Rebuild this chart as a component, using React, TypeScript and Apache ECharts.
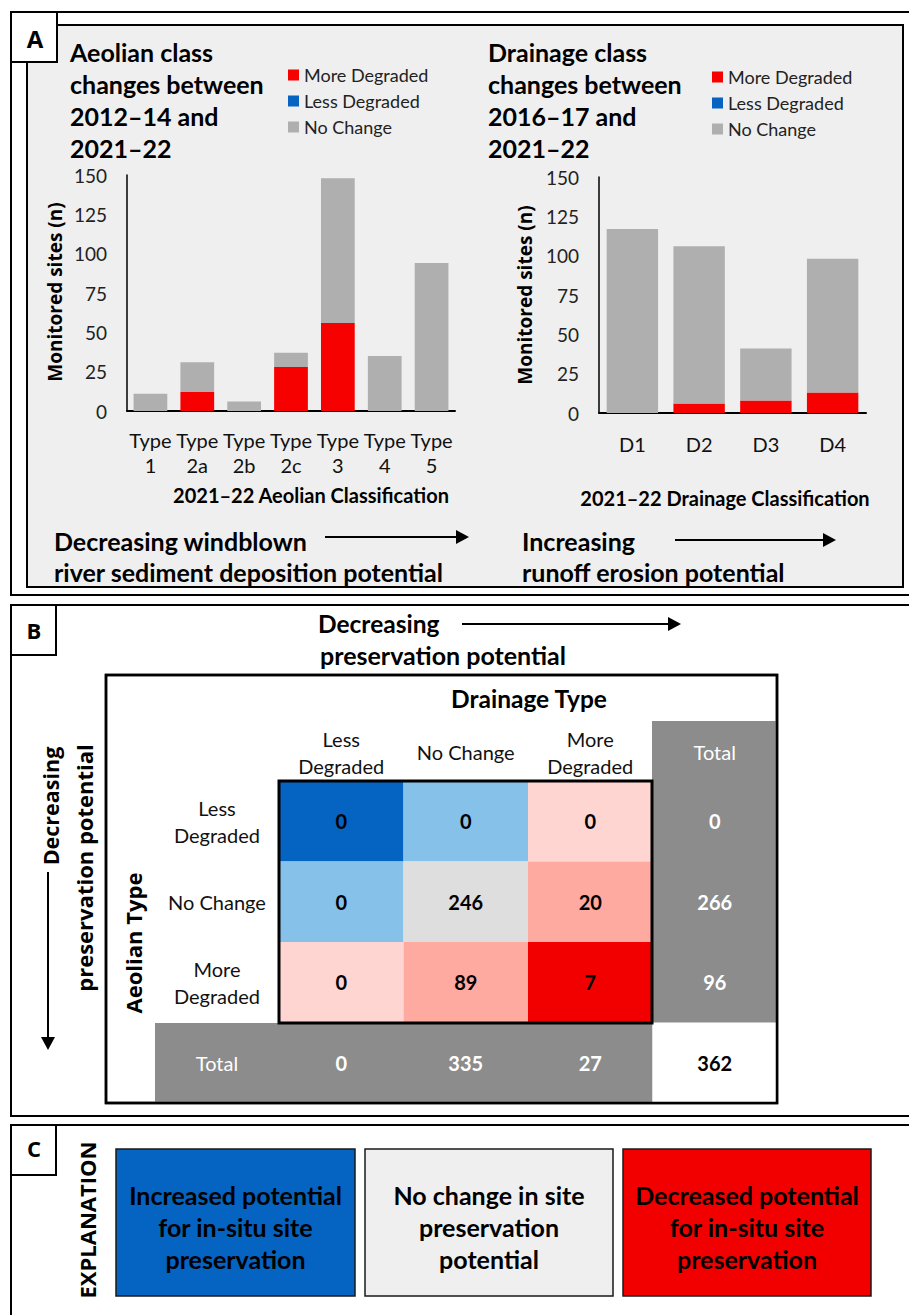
import React, { useEffect, useRef } from "react";
import * as echarts from "echarts";

// ---------- Data ----------
const aeolianCats = ["Type\n1", "Type\n2a", "Type\n2b", "Type\n2c", "Type\n3", "Type\n4", "Type\n5"];
const aeolianMore = [0, 12, 0, 28, 56, 0, 0];
const aeolianLess = [0, 0, 0, 0, 0, 0, 0];
const aeolianNoChange = [11, 19, 6, 9, 92, 35, 94];

const drainageCats = ["D1", "D2", "D3", "D4"];
const drainageMore = [0, 6, 8, 13];
const drainageLess = [0, 0, 0, 0];
const drainageNoChange = [117, 100, 33, 85];

const seriesNames = ["More Degraded", "Less Degraded", "No Change"];
const yMin = 0;
const yMax = 150;
const yStep = 25;

const drainageCols = ["Less\nDegraded", "No Change", "More\nDegraded", "Total"];
const aeolianRows = ["Less\nDegraded", "No Change", "More\nDegraded", "Total"];
const matrixValues = [
  [0, 0, 0],
  [0, 246, 20],
  [0, 89, 7],
];
const rowTotals = [0, 266, 96];
const colTotals = [0, 335, 27];
const grandTotal = 362;

const explanationTexts = [
  "Increased potential\nfor in-situ site\npreservation",
  "No change in site\npreservation\npotential",
  "Decreased potential\nfor in-situ site\npreservation",
];

// ---------- Styles ----------
const RED = "#f70000";
const BLUE = "#0563c1";
const GREY = "#afafaf";
const cellColors = [
  ["#0563c1", "#85c1e9", "#ffd5d2"],
  ["#85c1e9", "#dedede", "#ffaaa0"],
  ["#ffd5d2", "#ffaaa0", "#f20000"],
];
const TOTAL_GREY = "#8c8c8c";
const FONT = "Lato, 'Open Sans', sans-serif";
const WIDE = "'Open Sans', 'DejaVu Sans', sans-serif";

function txt(x: number, y: number, text: string, o: any = {}) {
  return {
    type: "text",
    x,
    y,
    rotation: o.rotation || 0,
    z: 50,
    style: {
      text,
      fill: o.fill || "#000",
      fontSize: o.fontSize || 22,
      fontWeight: o.fontWeight || "bold",
      fontFamily: o.fontFamily || FONT,
      lineHeight: o.lineHeight,
      textAlign: o.align || "left",
      textVerticalAlign: o.vAlign || "middle",
    },
  };
}

function rect(x: number, y: number, w: number, h: number, fill: string, stroke?: string, lw = 2, z = -10) {
  return {
    type: "rect",
    z,
    shape: { x, y, width: w, height: h },
    style: { fill, stroke: stroke || null, lineWidth: stroke ? lw : 0 },
  };
}

function hArrow(x1: number, x2: number, y: number) {
  return [
    { type: "line", z: 50, shape: { x1, y1: y, x2: x2 - 10, y2: y }, style: { stroke: "#000", lineWidth: 2 } },
    {
      type: "polygon",
      z: 50,
      shape: { points: [[x2 - 13, y - 7], [x2, y], [x2 - 13, y + 7]] },
      style: { fill: "#000" },
    },
  ];
}

function vArrow(x: number, y1: number, y2: number) {
  return [
    { type: "line", z: 50, shape: { x1: x, y1, x2: x, y2: y2 - 10 }, style: { stroke: "#000", lineWidth: 2 } },
    {
      type: "polygon",
      z: 50,
      shape: { points: [[x - 7, y2 - 13], [x, y2], [x + 7, y2 - 13]] },
      style: { fill: "#000" },
    },
  ];
}

export default function App() {
  const ref = useRef<HTMLDivElement>(null);

  useEffect(() => {
    if (!ref.current) return;
    const chart = echarts.init(ref.current, null, { renderer: "svg" });

    const cellData: any[] = [];
    const cellFill: string[] = [];
    const cellText: string[] = [];
    for (let r = 0; r < 4; r++) {
      for (let c = 0; c < 4; c++) {
        let v: number;
        let color: string;
        let labelColor = "#000";
        if (r < 3 && c < 3) {
          v = matrixValues[r][c];
          color = cellColors[r][c];
        } else if (r < 3 && c === 3) {
          v = rowTotals[r];
          color = TOTAL_GREY;
          labelColor = "#fff";
        } else if (r === 3 && c < 3) {
          v = colTotals[c];
          color = TOTAL_GREY;
          labelColor = "#fff";
        } else {
          v = grandTotal;
          color = "#ffffff";
        }
        cellData.push([c, r, v]);
        cellFill.push(color);
        cellText.push(labelColor);
      }
    }

    const barAxisLabel = { interval: 0, fontSize: 20, fontFamily: FONT, color: "#111", lineHeight: 25 };
    const valAxis = (gridIndex: number) => ({
      type: "value",
      gridIndex,
      min: yMin,
      max: yMax,
      interval: yStep,
      axisLine: { show: true, lineStyle: { color: "#000", width: 1.5 } },
      axisTick: { show: false },
      splitLine: { show: false },
      axisLabel: { fontSize: 19, fontFamily: FONT, color: "#222", margin: 20 },
    });

    const barSeries = (xi: number, more: number[], less: number[], none: number[], width: string) => [
      { name: seriesNames[0], type: "bar", stack: "s" + xi, xAxisIndex: xi, yAxisIndex: xi, data: more, barWidth: width, itemStyle: { color: RED } },
      { name: seriesNames[1], type: "bar", stack: "s" + xi, xAxisIndex: xi, yAxisIndex: xi, data: less, barWidth: width, itemStyle: { color: BLUE } },
      { name: seriesNames[2], type: "bar", stack: "s" + xi, xAxisIndex: xi, yAxisIndex: xi, data: none, barWidth: width, itemStyle: { color: GREY } },
    ];

    const legendBase = {
      orient: "vertical",
      icon: "rect",
      itemWidth: 11,
      itemHeight: 11,
      itemGap: 8,
      data: seriesNames,
      selectedMode: false,
      textStyle: { fontSize: 18, fontFamily: FONT, color: "#222" },
    };

    const labelFmt = (v: string) => (v === "Total" ? "{w|Total}" : v);
    const matAxisLabel = {
      interval: 0,
      fontSize: 20,
      fontFamily: FONT,
      color: "#111",
      lineHeight: 27,
      formatter: labelFmt,
      rich: { w: { color: "#fff", fontSize: 20, fontFamily: FONT } },
    };

    const graphics: any[] = [
      // Panel A
      rect(11, 12, 910, 583, "#fff", "#000", 2, -30),
      rect(27, 25, 876, 562, "#efefef", "#000", 2, -29),
      rect(11, 12, 46, 50, "#fff", "#000", 2, -28),
      txt(35, 38, "A", { fontSize: 24, fontFamily: WIDE, align: "center" }),
      txt(70, 36, "Aeolian class\nchanges between\n2012–14 and\n2021–22", { fontSize: 25, lineHeight: 32, vAlign: "top" }),
      txt(488, 36, "Drainage class\nchanges between\n2016–17 and\n2021–22", { fontSize: 25, lineHeight: 32, vAlign: "top" }),
      txt(55, 292, "Monitored sites (n)", { fontSize: 19, fontFamily: WIDE, align: "center", rotation: Math.PI / 2 }),
      txt(525, 295, "Monitored sites (n)", { fontSize: 19, fontFamily: WIDE, align: "center", rotation: Math.PI / 2 }),
      txt(311, 495, "2021–22 Aeolian Classification", { fontSize: 20, align: "center" }),
      txt(725, 498, "2021–22 Drainage Classification", { fontSize: 20, align: "center" }),
      txt(54, 541, "Decreasing windblown", { fontSize: 25 }),
      txt(54, 572, "river sediment deposition potential", { fontSize: 25 }),
      ...hArrow(325, 469, 537),
      txt(522, 541, "Increasing", { fontSize: 25 }),
      txt(522, 572, "runoff erosion potential", { fontSize: 25 }),
      ...hArrow(675, 836, 540),

      // Panel B
      rect(11, 605, 910, 511, "#fff", "#000", 2, -30),
      rect(11, 605, 45, 50, "#fff", "#000", 2, -28),
      txt(34, 630, "B", { fontSize: 22, fontFamily: WIDE, align: "center" }),
      txt(318, 623, "Decreasing", { fontSize: 24.5 }),
      txt(320, 655, "preservation potential", { fontSize: 25 }),
      ...hArrow(462, 681, 624),
      rect(106, 675, 671, 428, "#fff", "#000", 2.5, -25),
      rect(652, 721, 125, 302, TOTAL_GREY, undefined, 0, -24),
      rect(155, 1023, 497, 80, TOTAL_GREY, undefined, 0, -24),
      {
        type: "rect",
        z: 60,
        shape: { x: 279, y: 781, width: 373, height: 242 },
        style: { fill: "none", stroke: "#000", lineWidth: 3 },
      },
      {
        type: "rect",
        z: 60,
        shape: { x: 106, y: 675, width: 671, height: 428 },
        style: { fill: "none", stroke: "#000", lineWidth: 2.5 },
      },
      txt(529, 698, "Drainage Type", { fontSize: 24.5, align: "center" }),
      txt(133, 943, "Aeolian Type", { fontSize: 22, fontFamily: WIDE, align: "center", rotation: Math.PI / 2 }),
      txt(50, 806, "Decreasing", { fontSize: 21.5, fontFamily: WIDE, align: "center", rotation: Math.PI / 2 }),
      txt(84, 868, "preservation potential", { fontSize: 22, fontFamily: WIDE, align: "center", rotation: Math.PI / 2 }),
      ...vArrow(48, 872, 1050),

      // Panel C
      rect(11, 1125, 910, 220, "#fff", "#000", 2, -30),
      rect(11, 1125, 45, 50, "#fff", "#000", 2, -28),
      txt(34, 1148, "C", { fontSize: 22, fontFamily: WIDE, align: "center" }),
      txt(87, 1220, "EXPLANATION", { fontSize: 22, fontFamily: WIDE, align: "center", rotation: Math.PI / 2 }),
      rect(116, 1149, 239, 147, BLUE, "#1a1a1a", 1.5, -20),
      rect(365, 1149, 248, 147, "#efefef", "#1a1a1a", 1.5, -20),
      rect(623, 1149, 248, 147, "#f20000", "#1a1a1a", 1.5, -20),
      txt(235.5, 1227, explanationTexts[0], { fontSize: 25, lineHeight: 32, align: "center" }),
      txt(489, 1227, explanationTexts[1], { fontSize: 25, lineHeight: 32, align: "center" }),
      txt(747, 1227, explanationTexts[2], { fontSize: 25, lineHeight: 32, align: "center" }),
    ];

    chart.setOption({
      animation: false,
      backgroundColor: "#fff",
      legend: [
        { ...legendBase, left: 283, top: 61 },
        { ...legendBase, left: 707, top: 63 },
      ],
      grid: [
        { left: 127, top: 175, width: 328, height: 236 },
        { left: 599, top: 177, width: 267, height: 236 },
        { left: 279, top: 781, width: 498, height: 322 },
      ],
      xAxis: [
        {
          type: "category",
          gridIndex: 0,
          data: aeolianCats,
          axisLine: { lineStyle: { color: "#000", width: 2 } },
          axisTick: { show: false },
          axisLabel: { ...barAxisLabel, margin: 16 },
        },
        {
          type: "category",
          gridIndex: 1,
          data: drainageCats,
          axisLine: { lineStyle: { color: "#000", width: 2 } },
          axisTick: { show: false },
          axisLabel: { ...barAxisLabel, margin: 18 },
        },
        {
          type: "category",
          gridIndex: 2,
          position: "top",
          data: drainageCols,
          axisLine: { show: false },
          axisTick: { show: false },
          splitLine: { show: false },
          axisLabel: { ...matAxisLabel, verticalAlign: "middle", margin: 29 },
        },
      ],
      yAxis: [
        valAxis(0),
        valAxis(1),
        {
          type: "category",
          gridIndex: 2,
          inverse: true,
          data: aeolianRows,
          axisLine: { show: false },
          axisTick: { show: false },
          splitLine: { show: false },
          axisLabel: { ...matAxisLabel, align: "center", margin: 62 },
        },
      ],
      series: [
        ...barSeries(0, aeolianMore, aeolianLess, aeolianNoChange, "72%"),
        ...barSeries(1, drainageMore, drainageLess, drainageNoChange, "77%"),
        {
          type: "custom",
          xAxisIndex: 2,
          yAxisIndex: 2,
          data: cellData,
          encode: { x: 0, y: 1 },
          renderItem: (params: any, api: any) => {
            const center = api.coord([api.value(0), api.value(1)]);
            const size = api.size([1, 1]);
            const i = params.dataIndex;
            return {
              type: "group",
              children: [
                {
                  type: "rect",
                  shape: { x: center[0] - size[0] / 2, y: center[1] - size[1] / 2, width: size[0], height: size[1] },
                  style: { fill: cellFill[i] },
                },
                {
                  type: "text",
                  x: center[0],
                  y: center[1],
                  style: {
                    text: String(api.value(2)),
                    fill: cellText[i],
                    fontSize: 20,
                    fontWeight: "bold",
                    fontFamily: FONT,
                    textAlign: "center",
                    textVerticalAlign: "middle",
                  },
                },
              ],
            };
          },
        },
      ],
      graphic: { elements: graphics },
    });

    return () => chart.dispose();
  }, []);

  return (
    <div
      ref={ref}
      style={{ position: "absolute", left: 0, top: 0, width: 909, height: 1315, background: "#fff" }}
    />
  );
}
